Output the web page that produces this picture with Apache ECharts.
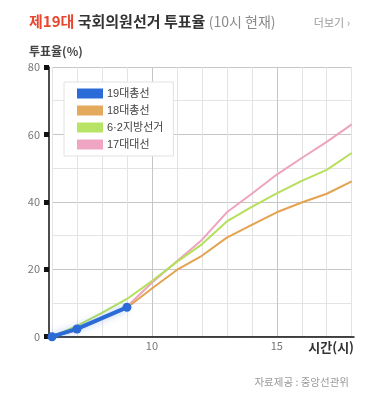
<!DOCTYPE html>
<html><head><meta charset="utf-8">
<script src="https://cdn.jsdelivr.net/npm/echarts@6/dist/echarts.min.js"></script>
<style>html,body{margin:0;padding:0;background:#fff}#c{width:369px;height:398px}</style>
</head><body><div id="c"></div>
<script>
// ---- data ----
const hours = [6, 7, 8, 9, 10, 11, 12, 13, 14, 15, 16, 17, 18];
const pres17 = [0, 2.2, 5.5, 8.9, 16.0, 22.4, 28.7, 36.9, 42.4, 48.1, 53.0, 57.8, 63.0];   // 17대대선
const local62 = [0, 3.2, 7.1, 11.2, 16.5, 22.2, 27.4, 34.2, 38.5, 42.5, 46.2, 49.5, 54.5];  // 6·2지방선거
const gen18 = [0, 2.0, 5.3, 8.6, 14.3, 19.8, 24.0, 29.4, 33.2, 36.9, 39.8, 42.4, 46.1];    // 18대총선
const gen19Hours = [6, 7, 9];
const gen19 = [0, 2.3, 8.7];                                                                 // 19대총선
const seriesNames = ['19대총선', '18대총선', '6·2지방선거', '17대대선'];
const yTicks = [0, 20, 40, 60, 80];
const xLabelTicks = [10, 15];

const FONT = "'Noto Sans CJK KR', 'Noto Sans', sans-serif";
const LEGEND_FONT = "'Liberation Sans', 'Noto Sans CJK KR', sans-serif";
const pairs = (xs, ys) => xs.map((x, i) => [x, ys[i]]);

const chart = echarts.init(document.getElementById('c'), null, { renderer: 'canvas' });
const GRID_TOP = 67, GRID_BOTTOM = 61.3;

chart.setOption({
  animation: false,
  backgroundColor: '#fff',
  textStyle: { fontFamily: FONT },
  title: [
    {
      left: 24, top: 9,
      text: '{r|제19대} {b|국회의원선거 투표율} {g|(10시 현재)}',
      textStyle: {
        fontFamily: FONT, fontSize: 15,
        rich: {
          r: { color: '#e8462f', fontWeight: 'bold', fontSize: 15, fontFamily: FONT },
          b: { color: '#333', fontWeight: 'bold', fontSize: 15, fontFamily: FONT },
          g: { color: '#8a8a8a', fontWeight: 'normal', fontSize: 14, fontFamily: FONT }
        }
      }
    },
    { right: 14, top: 12, text: '더보기 ›', textStyle: { color: '#9a9a9a', fontSize: 11, fontWeight: 'normal', fontFamily: FONT } },
    { left: 24, top: 40, text: '투표율(%)', textStyle: { color: '#444', fontSize: 12, fontWeight: 'bold', fontFamily: FONT } },
    { right: 15, top: 372, text: '자료제공 : 중앙선관위', textStyle: { color: '#9a9a9a', fontSize: 10.5, fontWeight: 'normal', fontFamily: FONT } }
  ],
  legend: {
    data: seriesNames,
    orient: 'vertical',
    left: 64, top: 82,
    padding: [6, 10, 6, 13],
    itemWidth: 26, itemHeight: 10, itemGap: 6,
    icon: 'rect',
    backgroundColor: '#fff',
    borderColor: '#e2e2e2', borderWidth: 1,
    textStyle: { color: '#444', fontSize: 11, fontFamily: LEGEND_FONT, padding: [0, 0, 0, -1] }
  },
  grid: [
    { left: 49, right: 15, top: GRID_TOP, bottom: GRID_BOTTOM },
    { left: 52, right: 17.3, top: GRID_TOP, bottom: GRID_BOTTOM }
  ],
  xAxis: [
    {
      gridIndex: 0, type: 'value', min: 0, max: 1,
      axisLine: { show: true, lineStyle: { color: '#111', width: 1.5 } },
      axisTick: { show: false }, axisLabel: { show: false }, splitLine: { show: false },
      name: '시간(시)', nameLocation: 'end', nameGap: 0,
      nameTextStyle: { color: '#333', fontWeight: 'bold', fontSize: 13, fontFamily: FONT, align: 'right', verticalAlign: 'top', padding: [4, 0, 0, 0] }
    },
    {
      gridIndex: 1, type: 'value', min: 6, max: 18, interval: 1,
      axisLine: { show: false }, axisTick: { show: false },
      axisLabel: {
        color: '#777', fontSize: 11, margin: 4, fontFamily: FONT,
        formatter: v => (xLabelTicks.indexOf(v) >= 0 ? String(v) : '')
      },
      splitLine: { show: true, lineStyle: { color: ['#e3e3e3', '#e3e3e3', '#e3e3e3', '#e3e3e3', '#c6c6c6'], width: 1 } }
    }
  ],
  yAxis: [
    {
      gridIndex: 0, type: 'value', min: 0, max: 80, interval: 20,
      axisLine: { show: true, lineStyle: { color: '#111', width: 1.5 } },
      axisTick: { show: true, length: 5, lineStyle: { color: '#111', width: 5 } },
      axisLabel: { color: '#777', fontSize: 11, margin: 9, fontFamily: FONT, formatter: v => (yTicks.indexOf(v) >= 0 ? String(v) : '') },
      splitLine: { show: false }
    },
    {
      gridIndex: 1, type: 'value', min: 0, max: 80, interval: 10,
      axisLine: { show: false }, axisTick: { show: false }, axisLabel: { show: false },
      splitLine: { show: true, lineStyle: { color: ['#c6c6c6', '#e3e3e3'], width: 1 } }
    }
  ],
  series: [
    {
      name: '17대대선', type: 'line', xAxisIndex: 1, yAxisIndex: 1,
      data: pairs(hours, pres17), showSymbol: false, symbol: 'none',
      color: '#f0a6c2', lineStyle: { width: 2, color: '#eea3bf' }
    },
    {
      name: '6·2지방선거', type: 'line', xAxisIndex: 1, yAxisIndex: 1,
      data: pairs(hours, local62), showSymbol: false, symbol: 'none',
      color: '#b8e465', lineStyle: { width: 2, color: '#b4e05c' }
    },
    {
      name: '18대총선', type: 'line', xAxisIndex: 1, yAxisIndex: 1,
      data: pairs(hours, gen18), showSymbol: false, symbol: 'none',
      color: '#e3a95c', lineStyle: { width: 2, color: '#e3a350' }
    },
    {
      name: '19대총선', type: 'line', xAxisIndex: 1, yAxisIndex: 1,
      data: pairs(gen19Hours, gen19), symbol: 'circle', symbolSize: 9, showSymbol: true,
      color: '#2a6bd8',
      itemStyle: { color: '#2a6bd8' },
      lineStyle: { width: 4, color: '#2a6bd8', shadowColor: 'rgba(80,140,235,0.45)', shadowBlur: 7 },
      z: 5
    }
  ]
});
</script>
</body></html>
